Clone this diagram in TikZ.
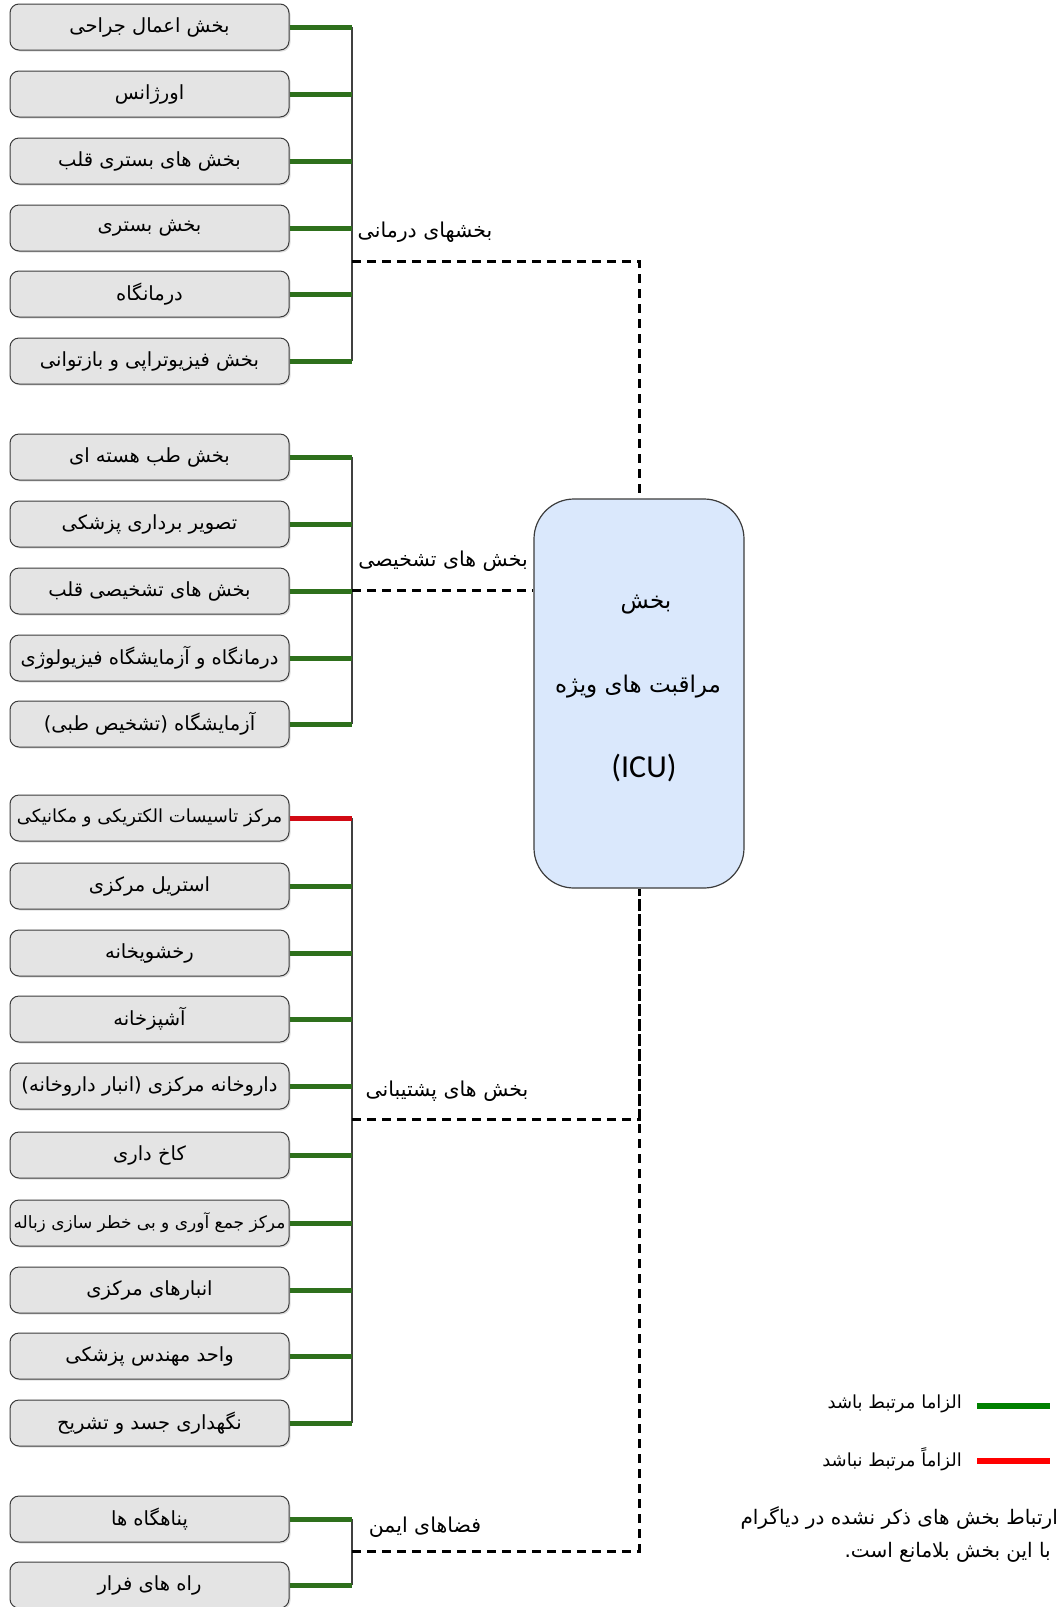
\documentclass[tikz,border=0pt]{standalone}
\usepackage{fontspec}
\usetikzlibrary{shadows}
\TeXXeTstate=1
\newfontfamily\fa[Script=Arabic]{DejaVu Sans}
\newfontfamily\lat{Carlito}
\definecolor{boxfill}{RGB}{228,228,228}
\definecolor{boxdraw}{RGB}{60,60,60}
\definecolor{conng}{RGB}{46,112,28}
\definecolor{connr}{RGB}{210,10,20}
\definecolor{icufill}{RGB}{218,232,252}
\definecolor{leggreen}{RGB}{0,128,0}
\definecolor{legred}{RGB}{255,0,0}
\begin{document}
\begin{tikzpicture}[x=1pt,y=-1pt,
  unitbox/.style={draw=boxdraw, line width=1pt, fill=boxfill, rounded corners=9pt,
    minimum width=279pt, minimum height=46pt, inner sep=0pt,
    font=\fa\fontsize{19.5}{23}\selectfont,
    drop shadow={shadow xshift=1.5pt, shadow yshift=-1.5pt, opacity=0.25}},
  smalltext/.style={font=\fa\fontsize{18}{22}\selectfont},
  tinytext/.style={font=\fa\fontsize{17}{21}\selectfont},
  glink/.style={draw=conng, line width=5pt},
  rlink/.style={draw=connr, line width=5pt},
  busline/.style={draw=black!75, line width=1.3pt},
  dashlink/.style={draw=black, line width=3pt, dash pattern=on 9pt off 6pt},
  grplabel/.style={font=\fa\fontsize{20.5}{24}\selectfont, inner sep=0pt},
  legtext/.style={font=\fa\fontsize{18}{22}\selectfont, inner sep=0pt},
  notetext/.style={font=\fa\fontsize{20}{24}\selectfont, inner sep=0pt},
  icutext/.style={font=\fa\fontsize{23}{27}\selectfont},
]
\useasboundingbox (0,0) rectangle (1063,1607);

% ICU box
\node[draw=boxdraw, line width=1.2pt, fill=icufill, rounded corners=40pt,
  minimum width=210pt, minimum height=389pt] (icu) at (639,693.5) {};
\node[icutext] (icuA) at (646,605) {\beginR بخش\endR};
\node[icutext] (icuB) at (638,687) {\beginR مراقبت های ویژه\endR};
\node[font=\lat\fontsize{32}{36}\selectfont] (icuC) at (644,768) {(ICU)};

% Group 1
\node[unitbox] (a1) at (149.5,27) {\beginR بخش اعمال جراحی\endR};
\node[unitbox] (a2) at (149.5,94) {\beginR اورژانس\endR};
\node[unitbox] (a3) at (149.5,161) {\beginR بخش های بستری قلب\endR};
\node[unitbox] (a4) at (149.5,228) {\beginR بخش بستری\endR};
\node[unitbox] (a5) at (149.5,294) {\beginR درمانگاه\endR};
\node[unitbox] (a6) at (149.5,361) {\beginR بخش فیزیوتراپی و بازتوانی\endR};
\coordinate (bus1) at (352,0);
\coordinate (j1) at (352,261);
\draw[busline] (a1.east -| bus1) -- (a6.east -| bus1);
\foreach \n in {a1,a2,a3,a4,a5,a6} \draw[glink] (\n.east) -- (\n.east -| bus1);
\node[grplabel] (l1) at (425,232) {\beginR بخشهای درمانی\endR};
\draw[dashlink] (j1) -| (icu.north);

% Group 2
\node[unitbox] (b1) at (149.5,457) {\beginR بخش طب هسته ای\endR};
\node[unitbox] (b2) at (149.5,524) {\beginR تصویر برداری پزشکی\endR};
\node[unitbox] (b3) at (149.5,591) {\beginR بخش های تشخیصی قلب\endR};
\node[unitbox] (b4) at (149.5,658) {\beginR درمانگاه و آزمایشگاه فیزیولوژی\endR};
\node[unitbox] (b5) at (149.5,724) {\beginR آزمایشگاه (تشخیص طبی)\endR};
\coordinate (j2) at (352,590);
\draw[busline] (b1.east -| bus1) -- (b5.east -| bus1);
\foreach \n in {b1,b2,b3,b4,b5} \draw[glink] (\n.east) -- (\n.east -| bus1);
\node[grplabel] (l2) at (443,561) {\beginR بخش های تشخیصی\endR};
\draw[dashlink] (j2) -- (j2 -| icu.west);

% Group 3
\node[unitbox, smalltext] (c1) at (149.5,818) {\beginR مرکز تاسیسات الکتریکی و مکانیکی\endR};
\node[unitbox] (c2) at (149.5,886) {\beginR استریل مرکزی\endR};
\node[unitbox] (c3) at (149.5,953) {\beginR رخشویخانه\endR};
\node[unitbox] (c4) at (149.5,1019) {\beginR آشپزخانه\endR};
\node[unitbox] (c5) at (149.5,1086) {\beginR داروخانه مرکزی (انبار داروخانه)\endR};
\node[unitbox] (c6) at (149.5,1155) {\beginR کاخ داری\endR};
\node[unitbox, tinytext] (c7) at (149.5,1223) {\beginR مرکز جمع آوری و بی خطر سازی زباله\endR};
\node[unitbox] (c8) at (149.5,1290) {\beginR انبارهای مرکزی\endR};
\node[unitbox] (c9) at (149.5,1356) {\beginR واحد مهندس پزشکی\endR};
\node[unitbox] (c10) at (149.5,1423) {\beginR نگهداری جسد و تشریح\endR};
\coordinate (j3) at (352,1119);
\draw[busline] (c1.east -| bus1) -- (c10.east -| bus1);
\draw[rlink] (c1.east) -- (c1.east -| bus1);
\foreach \n in {c2,c3,c4,c5,c6,c7,c8,c9,c10} \draw[glink] (\n.east) -- (\n.east -| bus1);
\node[grplabel] (l3) at (447,1091) {\beginR بخش های پشتیبانی\endR};
\draw[dashlink] (j3) -| (icu.south);

% Group 4
\node[unitbox] (d1) at (149.5,1519) {\beginR پناهگاه ها\endR};
\node[unitbox] (d2) at (149.5,1585) {\beginR راه های فرار\endR};
\coordinate (j4) at (352,1551);
\draw[busline] (d1.east -| bus1) -- (d2.east -| bus1);
\foreach \n in {d1,d2} \draw[glink] (\n.east) -- (\n.east -| bus1);
\node[grplabel] (l4) at (425,1527) {\beginR فضاهای ایمن\endR};
\draw[dashlink] (j4) -| (icu.south);

% Legend
\coordinate (lg1a) at (977,1406);
\coordinate (lg1b) at (1050,1406);
\coordinate (lg2a) at (977,1461);
\coordinate (lg2b) at (1050,1461);
\draw[draw=leggreen, line width=6pt] (lg1a) -- (lg1b);
\draw[draw=legred, line width=6pt] (lg2a) -- (lg2b);
\node[legtext, anchor=east] (t1) at (962,1404) {\beginR الزاما مرتبط باشد\endR};
\node[legtext, anchor=east] (t2) at (962,1459) {\beginR الزاماً مرتبط نباشد\endR};
\node[notetext, anchor=east] (t3) at (1058,1518) {\beginR ارتباط بخش های ذکر نشده در دیاگرام\endR};
\node[notetext, anchor=east] (t4) at (1051,1552) {\beginR با این بخش بلامانع است.\endR};
\end{tikzpicture}
\end{document}
